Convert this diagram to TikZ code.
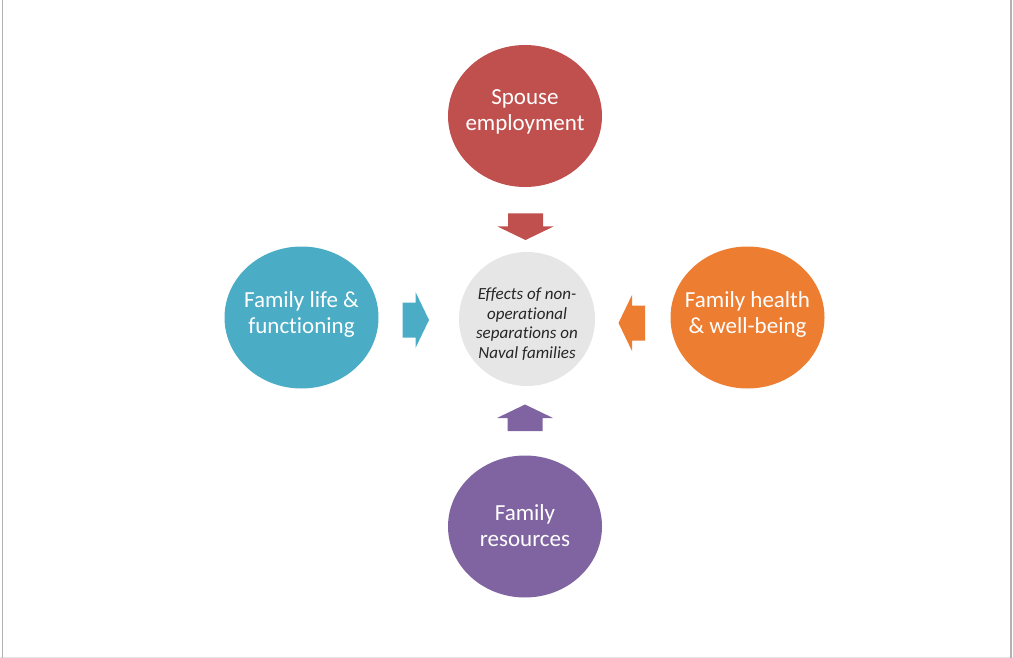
\documentclass[tikz,border=0pt]{standalone}
\usepackage{fontspec}
\setmainfont{Carlito}[Ligatures=NoCommon]
\usetikzlibrary{shapes.geometric}

\definecolor{spousered}{HTML}{C0504D}
\definecolor{lifeblue}{HTML}{4BACC6}
\definecolor{healthorange}{HTML}{ED7D31}
\definecolor{resourcepurple}{HTML}{8064A2}
\definecolor{effectgray}{HTML}{E6E6E6}

\tikzset{
  bubble/.style={ellipse, minimum width=154, minimum height=142, inner sep=0pt},
  bubbletext/.style={text=white, align=center, font=\fontsize{23}{25.5}\selectfont},
  centertext/.style={text=black!85, align=center, font=\fontsize{17}{19.6}\selectfont\itshape},
  blockarrow/.pic={\fill[#1] (-13,-17.5) -- (0,-17.5) -- (0,-28) -- (13.5,0)
                     -- (0,28) -- (0,17.5) -- (-13,17.5) -- cycle;}
}

\begin{document}
\begin{tikzpicture}[x=1pt, y=-1pt]

\useasboundingbox (0,0) rectangle (1013,658);

% Frame
\draw[gray!20, line width=1] (0,657.5) -- (1013,657.5);
\draw[gray!60, line width=1.6] (2.5,0) -- (2.5,658);
\draw[gray!60, line width=1.6] (1011,0) -- (1011,658);

% Centre
\node[ellipse, minimum width=136, minimum height=134, inner sep=0pt, fill=effectgray] (effects) at (527,319) {};
\node[centertext] (effectstext) at ([yshift=-5]effects) {Effects of non-\\operational\\separations on\\Naval families};

% Outer circles
\node[bubble, fill=spousered] (spouse) at (525,116) {};
\node[bubbletext] (spousetext) at ([yshift=4]spouse) {Spouse\\employment};

\node[bubble, fill=lifeblue] (life) at (301.5,317.5) {};
\node[bubbletext] (lifetext) at ([yshift=3]life) {Family life \&\\functioning};

\node[bubble, fill=healthorange] (health) at (747.5,317.5) {};
\node[bubbletext] (healthtext) at ([yshift=3]health) {Family health\\\& well-being};

\node[bubble, fill=resourcepurple] (resources) at (525,526.5) {};
\node[bubbletext] (resourcestext) at ([yshift=1]resources) {Family\\resources};

% Block arrows
\pic[rotate=-90] at (525.5,226.5) {blockarrow=spousered};
\pic[rotate=90] at (525,418) {blockarrow=resourcepurple};
\pic at (415.5,320) {blockarrow=lifeblue};
\pic[rotate=180] at (632,323) {blockarrow=healthorange};

\end{tikzpicture}
\end{document}
